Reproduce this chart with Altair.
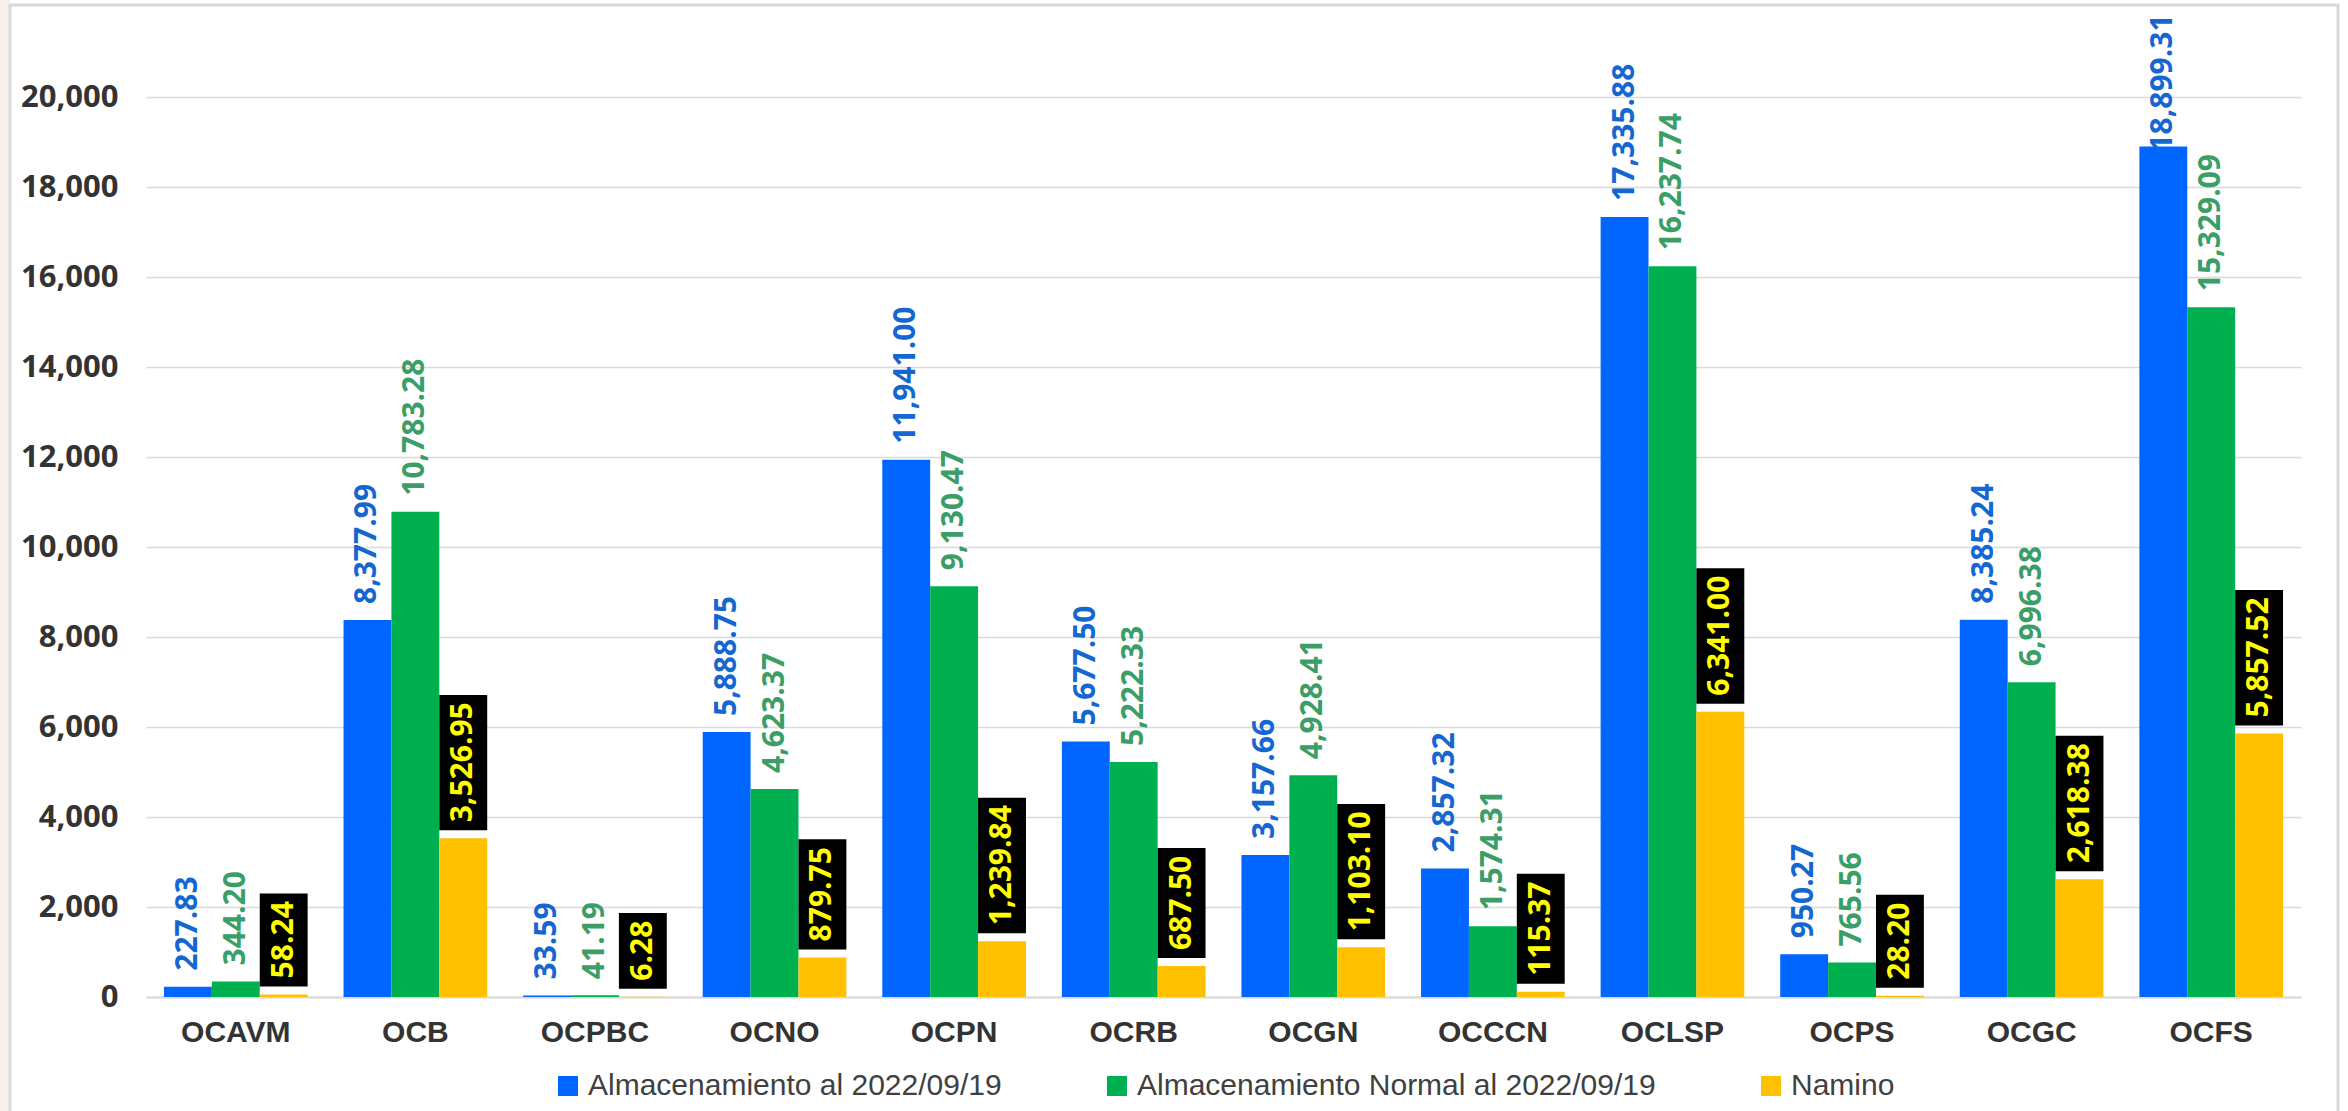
import altair as alt
import pandas as pd

categories = ["OCAVM", "OCB", "OCPBC", "OCNO", "OCPN", "OCRB",
              "OCGN", "OCCCN", "OCLSP", "OCPS", "OCGC", "OCFS"]
almacenamiento = [227.83, 8377.99, 33.59, 5888.75, 11941.00, 5677.50,
                  3157.66, 2857.32, 17335.88, 950.27, 8385.24, 18899.31]
normal = [344.20, 10783.28, 41.19, 4623.37, 9130.47, 5222.33,
          4928.41, 1574.31, 16237.74, 765.56, 6996.38, 15329.09]
namino = [58.24, 3526.95, 6.28, 879.75, 1239.84, 687.50,
          1103.10, 115.37, 6341.00, 28.20, 2618.38, 5857.52]
series = ["Almacenamiento al 2022/09/19",
          "Almacenamiento Normal al 2022/09/19",
          "Namino"]
bar_colors = ["#0066FF", "#00B050", "#FFC000"]
label_colors = ["#1467D2", "#3A9E66", "#FFFF00"]
y_ticks = list(range(0, 20001, 2000))

rows = []
for s, vals in zip(series, [almacenamiento, normal, namino]):
    for c, v in zip(categories, vals):
        rows.append({"cat": c, "series": s, "value": v})
df = pd.DataFrame(rows)

W, H, YMAX = 2155, 990, 22000
UPP = YMAX / H  # data units per pixel

x_enc = alt.X("cat:N", sort=categories,
              scale=alt.Scale(paddingInner=0.2, paddingOuter=0.1),
              axis=alt.Axis(labelFont="Liberation Sans", labelFontWeight="bold",
                            labelFontSize=30, labelColor="#333333", labelPadding=20,
                            ticks=False, domainColor="#D9D9D9", domainWidth=2,
                            labelAngle=0, title=None, grid=False))
xo_enc = alt.XOffset("series:N", sort=series)
y_scale = alt.Scale(domain=[0, YMAX], nice=False)
y_axis = alt.Axis(values=y_ticks, format=",d", labelFont="Open Sans",
                  labelFontWeight="bold", labelFontSize=31, labelColor="#333333",
                  labelPadding=28, ticks=False, domain=False, grid=True,
                  gridColor="#DADADA", gridWidth=1.5, title=None)

one = alt.Data(values=[{"k": 1}])
strip = alt.Chart(one).mark_rect(fill="#F6F1EA").encode(
    x=alt.value(-146), x2=alt.value(-136), y=alt.value(-7), y2=alt.value(1104))
frame = alt.Chart(one).mark_rect(filled=False, stroke="#D9D9D9", strokeWidth=3).encode(
    x=alt.value(-136), x2=alt.value(2192), y=alt.value(-2), y2=alt.value(1200))

bars = alt.Chart(df).mark_bar().encode(
    x=x_enc, xOffset=xo_enc,
    y=alt.Y("value:Q", scale=y_scale, axis=y_axis),
    color=alt.Color("series:N", sort=series,
                    scale=alt.Scale(domain=series, range=bar_colors),
                    legend=alt.Legend(orient="none", legendX=407, legendY=1064,
                                      direction="horizontal", title=None,
                                      symbolType="square", symbolSize=400,
                                      symbolStrokeWidth=0, labelFont="Liberation Sans",
                                      labelFontSize=30, labelColor="#404040",
                                      columnPadding=100, labelOffset=5, padding=0,
                                      labelLimit=0)),
)


def with_calcs(ch):
    return (ch.transform_calculate(label="format(datum.value, ',.2f')")
              .transform_calculate(nd="length(replace(replace(datum.label, ',', ''), '.', ''))")
              .transform_calculate(np="length(datum.label) - datum.nd")
              .transform_calculate(tl="datum.nd * 17.2 + datum.np * 8.1")
              .transform_calculate(
                  ylab=f"min(datum.value + 16 * {UPP}, {YMAX} - (datum.tl + 8) * {UPP})",
                  b0=f"datum.value + 8 * {UPP}",
                  b1=f"datum.value + (datum.tl + 24) * {UPP}"))


boxes = with_calcs(alt.Chart(df).transform_filter(alt.datum.series == series[2])).mark_bar(
    color="black").encode(
    x=x_enc, xOffset=xo_enc,
    y=alt.Y("b0:Q", scale=y_scale, axis=y_axis), y2="b1:Q")

texts = []
for s, col in zip(series, label_colors):
    t = with_calcs(alt.Chart(df).transform_filter(alt.datum.series == s)).mark_text(
        angle=270, align="left", baseline="middle", font="Open Sans",
        fontWeight="bold", fontSize=30, color=col).encode(
        x=x_enc, xOffset=xo_enc,
        y=alt.Y("ylab:Q", scale=y_scale, axis=y_axis),
        text="label:N")
    texts.append(t)

chart = alt.layer(strip, frame, bars, boxes, *texts).properties(
    width=W, height=H,
    autosize=alt.AutoSizeParams(type="none"),
    padding={"left": 146, "top": 7, "right": 47, "bottom": 114},
    background="white",
).configure_view(stroke=None)

chart.save("out.html", embed_options={"renderer": "svg", "actions": False})
